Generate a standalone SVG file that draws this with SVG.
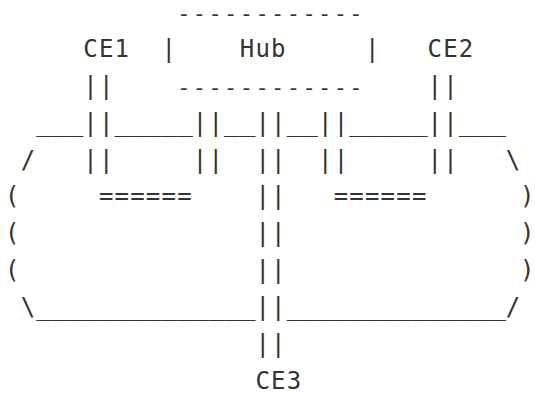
<svg xmlns="http://www.w3.org/2000/svg" width="535" height="396" viewBox="0 0 535 396">
<style>
text{font-family:"DejaVu Sans Mono","Liberation Mono",monospace;font-size:24px;letter-spacing:1.2px;fill:#333;white-space:pre}
text.u{font-size:26px;letter-spacing:0}
text.d{font-size:22px;letter-spacing:2.41px}
text.e{letter-spacing:0}
</style>
<rect width="535" height="396" fill="#fff"/>
<g id="hub">
<text class="d" x="177.15" y="21">------------</text>
<text x="161.5" y="56.7">|</text>
<text x="239.75" y="56.7">Hub</text>
<text x="364.95" y="56.7">|</text>
<text class="d" x="177.15" y="94.5">------------</text>
</g>
<g id="ce1"><text x="83.25" y="56.7">CE1</text></g>
<g id="ce2"><text x="427.55" y="56.7">CE2</text></g>
<g id="ce3"><text x="255.4" y="389">CE3</text></g>
<g id="network">
<text class="u" x="36.3" y="130.5">___</text>
<text class="u" x="114.55" y="130.5">_____</text>
<text class="u" x="224.1" y="130.5">__</text>
<text class="u" x="286.7" y="130.5">__</text>
<text class="u" x="349.3" y="130.5">_____</text>
<text class="u" x="458.85" y="130.5">___</text>
<text x="20.65" y="167.5">/</text>
<text class="e" x="505.8" y="167.5">\</text>
<text x="5" y="204.4">(</text>
<text class="e" x="520" y="204.4">)</text>
<text x="5" y="241.3">(</text>
<text class="e" x="520" y="241.3">)</text>
<text x="5" y="278.2">(</text>
<text class="e" x="520" y="278.2">)</text>
<text x="20.65" y="315.1">\</text>
<text class="u" x="36.3" y="315.1">______________</text>
<text class="u" x="286.7" y="315.1">______________</text>
<text class="e" x="505.8" y="315.1">/</text>
<text x="98.9" y="204.4">======</text>
<text x="333.65" y="204.4">======</text>
</g>
<g id="connectors">
<text x="83.25" y="93.6">||</text>
<text x="427.55" y="93.6">||</text>
<text x="83.25" y="130.5">||</text>
<text x="192.8" y="130.5">||</text>
<text x="255.4" y="130.5">||</text>
<text x="318" y="130.5">||</text>
<text x="427.55" y="130.5">||</text>
<text x="83.25" y="167.5">||</text>
<text x="192.8" y="167.5">||</text>
<text x="255.4" y="167.5">||</text>
<text x="318" y="167.5">||</text>
<text x="427.55" y="167.5">||</text>
<text x="255.4" y="204.4">||</text>
<text x="255.4" y="241.3">||</text>
<text x="255.4" y="278.2">||</text>
<text x="255.4" y="315.1">||</text>
<text x="255.4" y="352">||</text>
</g>
</svg>
